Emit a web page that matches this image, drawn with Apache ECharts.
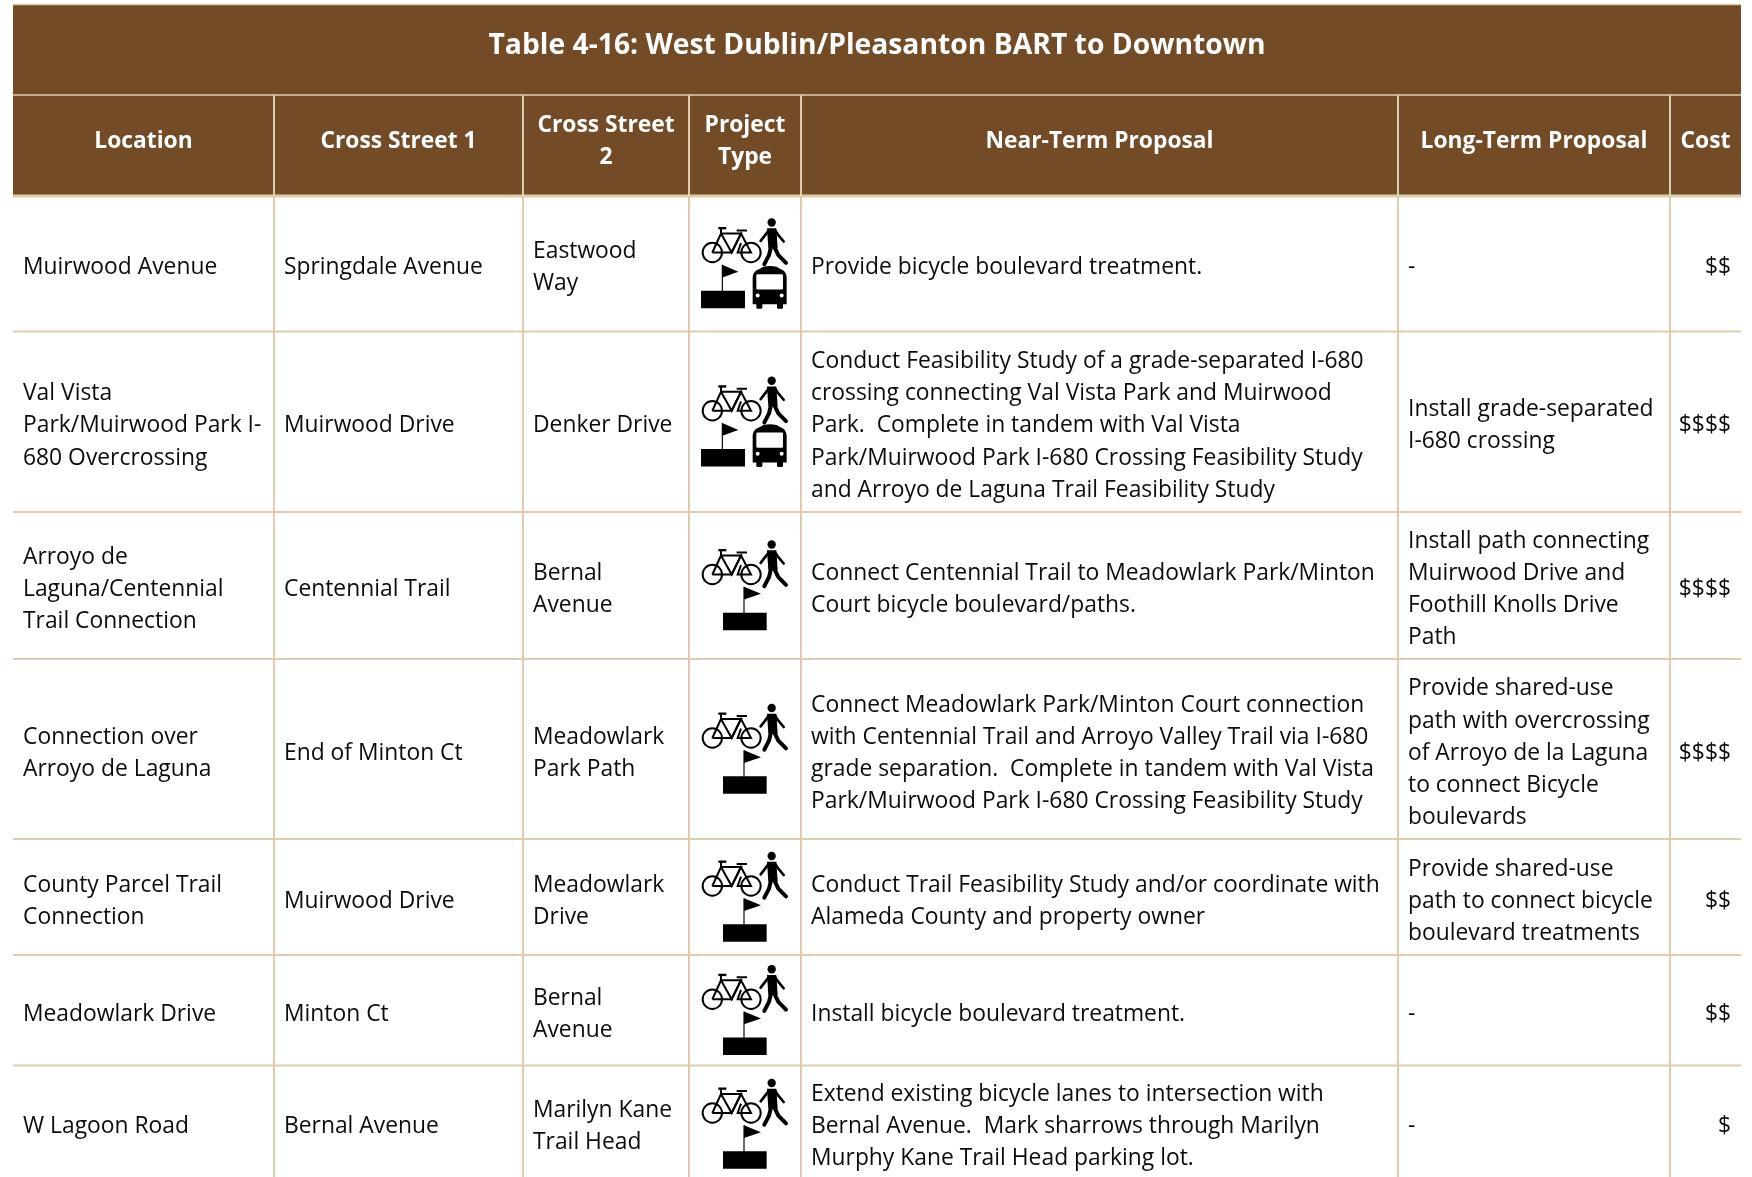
<!DOCTYPE html>
<html><head><meta charset="utf-8">
<style>html,body{margin:0;padding:0;background:#fff;overflow:hidden}#c{width:1752px;height:1177px}</style>
<script src="https://cdn.jsdelivr.net/npm/echarts@6/dist/echarts.min.js"></script>
</head><body><div id="c"></div>
<script>
const tableTitle = 'Table 4-16: West Dublin/Pleasanton BART to Downtown';
const headers = ['Location','Cross Street 1','Cross Street\n2','Project\nType','Near-Term Proposal','Long-Term Proposal','Cost'];
const locations = ['Muirwood Avenue','Val Vista\nPark/Muirwood Park I-\n680 Overcrossing','Arroyo de\nLaguna/Centennial\nTrail Connection','Connection over\nArroyo de Laguna','County Parcel Trail\nConnection','Meadowlark Drive','W Lagoon Road'];
const crossStreet1 = ['Springdale Avenue','Muirwood Drive','Centennial Trail','End of Minton Ct','Muirwood Drive','Minton Ct','Bernal Avenue'];
const crossStreet2 = ['Eastwood\nWay','Denker Drive','Bernal\nAvenue','Meadowlark\nPark Path','Meadowlark\nDrive','Bernal\nAvenue','Marilyn Kane\nTrail Head'];
const hasBusIcon = [true,true,false,false,false,false,false];
const nearTerm = ['Provide bicycle boulevard treatment.',
 'Conduct Feasibility Study of a grade-separated I-680\ncrossing connecting Val Vista Park and Muirwood\nPark.  Complete in tandem with Val Vista\nPark/Muirwood Park I-680 Crossing Feasibility Study\nand Arroyo de Laguna Trail Feasibility Study',
 'Connect Centennial Trail to Meadowlark Park/Minton\nCourt bicycle boulevard/paths.',
 'Connect Meadowlark Park/Minton Court connection\nwith Centennial Trail and Arroyo Valley Trail via I-680\ngrade separation.  Complete in tandem with Val Vista\nPark/Muirwood Park I-680 Crossing Feasibility Study',
 'Conduct Trail Feasibility Study and/or coordinate with\nAlameda County and property owner',
 'Install bicycle boulevard treatment.',
 'Extend existing bicycle lanes to intersection with\nBernal Avenue.  Mark sharrows through Marilyn\nMurphy Kane Trail Head parking lot.'];
const longTerm = ['-','Install grade-separated\nI-680 crossing','Install path connecting\nMuirwood Drive and\nFoothill Knolls Drive\nPath','Provide shared-use\npath with overcrossing\nof Arroyo de la Laguna\nto connect Bicycle\nboulevards','Provide shared-use\npath to connect bicycle\nboulevard treatments','-','-'];
const cost = ['$$','$$$$','$$$$','$$$$','$$','$$','$'];

// layout (pixels), kept apart from the data
const colEdges = [13,274,523,689,801,1398,1670,1741];
const rowEdges = [195.5,331.5,512,659,839,955,1065.5,1182];
const BROWN='#734C27', RULE='#DFCBAE', INK='#0c0c0c';
const FONT='"Open Sans"';
const bodySize=23.5, bodyScale=0.972, headSize=23.5, headScale=0.97, lh=32.1;
const bodyColumns=[locations,crossStreet1,crossStreet2,null,nearTerm,longTerm,cost];

function textLines(str,x,cy,align,size,weight,color,sx,dy){
  const ls=str.split('\n');
  return ls.map((t,i)=>({type:'text',x:x,y:cy+dy+(i-(ls.length-1)/2)*lh,scaleX:sx,silent:true,
    style:{text:t,fill:color,fontFamily:FONT,fontSize:size,fontWeight:weight,align:align,verticalAlign:'middle'}}));
}
function ln(x1,y1,x2,y2,w,c){return {type:'line',shape:{x1,y1,x2,y2},style:{stroke:c||RULE,lineWidth:w},silent:true};}

function bikeAndWalker(){
  const k='#000', dy=-33, s={stroke:k,fill:null,lineWidth:6};
  const limb=(pts,w)=>({type:'polyline',shape:{points:pts},style:{stroke:k,fill:null,lineWidth:w,lineCap:'round',lineJoin:'round'}});
  return [
   {type:'circle',shape:{cx:-98,cy:dy,r:29},style:s},{type:'circle',shape:{cx:18,cy:dy,r:29},style:s},
   {type:'polyline',shape:{points:[[-98,dy],[-72,-57+dy],[-12,-57+dy],[-40,dy],[-72,-57+dy]]},style:s},
   {type:'polyline',shape:{points:[[-98,dy],[-40,dy],[-12,-57+dy],[18,dy],[-22,dy],[-12,-28+dy]]},style:s},
   {type:'polyline',shape:{points:[[-80,-73+dy],[-56,-73+dy]]},style:{stroke:k,lineWidth:7}},
   {type:'polyline',shape:{points:[[-72,-73+dy],[-72,-57+dy]]},style:s},
   {type:'polyline',shape:{points:[[-25,-66+dy],[6,-66+dy]]},style:{stroke:k,lineWidth:6}},
   {type:'circle',shape:{cx:80,cy:-123,r:12.5},style:{fill:k}},
   {type:'polygon',shape:{points:[[66,-106],[94,-106],[98,-46],[70,-46]]},style:{fill:k}},
   limb([[72,-100],[47,-68]],8),
   limb([[90,-100],[100,-85],[116,-66]],8),
   limb([[78,-50],[72,-25],[58,2]],12),
   limb([[88,-50],[100,-25],[123,-2]],12)
  ];
}
function flag(px,tipX,block0,block1){
  const k='#000';
  return [
   {type:'polygon',shape:{points:[[px,4],[tipX,25],[px,42]]},style:{fill:k}},
   ln(px,4,px,84,3.5,k),
   {type:'rect',shape:{x:block0,y:82,width:block1-block0,height:52},style:{fill:k}}
  ];
}
function bus(){
  const k='#000',w='#fff';
  return [
   {type:'path',shape:{pathData:'M23 40 Q25 22 45 16 L55 10 Q75 5 95 10 L105 16 Q123 22 125 40 L125 122 L23 122 Z'},style:{fill:k}},
   {type:'rect',shape:{x:34,y:118,width:18,height:18,r:4},style:{fill:k}},
   {type:'rect',shape:{x:96,y:118,width:18,height:18,r:4},style:{fill:k}},
   {type:'rect',shape:{x:34,y:32,width:80,height:46,r:4},style:{fill:w}},
   {type:'circle',shape:{cx:38,cy:96,r:6},style:{fill:w}},
   {type:'circle',shape:{cx:110,cy:96,r:6},style:{fill:w}}
  ];
}
function projectIcon(i,cy){
  const parts=bikeAndWalker().concat(hasBusIcon[i]?flag(-68,-20,-132,0).concat(bus()):flag(-3,48,-66,65));
  return {type:'group',x:745,y:cy,scaleX:1/3,scaleY:1/3,silent:true,children:parts};
}

const items=[];
items.push(['band']);
headers.forEach((h,c)=>items.push(['head',c]));
locations.forEach((_,r)=>{bodyColumns.forEach((col,c)=>items.push(['cell',r,c]));});
items.push(['rules']);

function renderItem(params){
  const it=items[params.dataIndex];
  if(it[0]==='band'){
    return {type:'group',children:[
      {type:'rect',shape:{x:13,y:5,width:1728,height:190.5},style:{fill:BROWN},silent:true},
      ...textLines(tableTitle,877,46,'center',29,700,'#fff',0.975,0)]};
  }
  if(it[0]==='head'){
    const c=it[1],cx=(colEdges[c]+colEdges[c+1])/2;
    return {type:'group',children:textLines(headers[c],cx,141,'center',headSize,700,'#fff',headScale,0)};
  }
  if(it[0]==='rules'){
    const ch=[ln(13,4.5,1741,4.5,1.5),ln(13,95,1741,95,1.5),ln(13,196,1741,196,3)];
    rowEdges.slice(1,-1).forEach(y=>ch.push(ln(13,y,1741,y,2)));
    colEdges.slice(1,-1).forEach(x=>ch.push(ln(x,95,x,1177,2)));
    return {type:'group',children:ch};
  }
  const r=it[1],c=it[2],cy=(rowEdges[r]+rowEdges[r+1])/2;
  const rowCy = r===6?1124:cy;
  if(c===3) return projectIcon(r,rowCy);
  const textCy = r===6?1122:cy;
  const col=bodyColumns[c];
  if(c===6) return {type:'group',children:textLines(col[r],1731,textCy,'right',bodySize,400,INK,bodyScale,4)};
  return {type:'group',children:textLines(col[r],colEdges[c]+10,textCy,'left',bodySize,400,INK,bodyScale,4)};
}
const chart=echarts.init(document.getElementById('c'),null,{renderer:'canvas',width:1752,height:1177});
chart.setOption({animation:false,backgroundColor:'#fff',tooltip:{show:false},
  series:[{type:'custom',coordinateSystem:'none',silent:true,renderItem,clip:false,data:items.map((_,i)=>[i])}]});
</script></body></html>
